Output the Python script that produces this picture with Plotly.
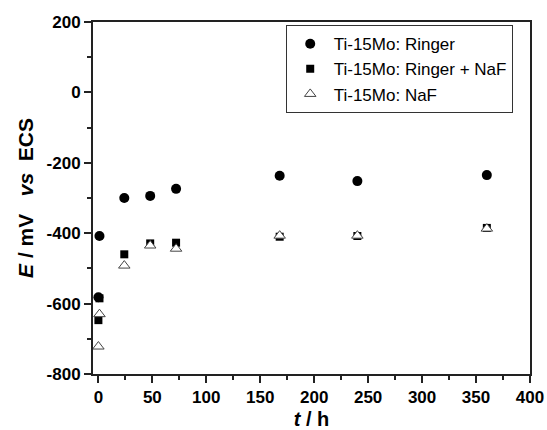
import plotly.graph_objects as go

t_ringer = [0, 1, 24, 48, 72, 168, 240, 360]
E_ringer = [-582, -408, -300, -294, -274, -237, -252, -235]

t_ringer_naf = [0, 1, 24, 48, 72, 168, 240, 360]
E_ringer_naf = [-647, -585, -460, -429, -427, -410, -408, -385]

t_naf = [0, 1, 24, 48, 72, 168, 240, 360]
E_naf = [-722, -630, -492, -435, -444, -407, -407, -387]

names = ["Ti-15Mo: Ringer", "Ti-15Mo: Ringer + NaF", "Ti-15Mo: NaF"]

fig = go.Figure()
fig.add_trace(go.Scatter(x=t_ringer, y=E_ringer, mode="markers", name=names[0],
                         marker=dict(symbol="circle", size=10, color="black")))
fig.add_trace(go.Scatter(x=t_ringer_naf, y=E_ringer_naf, mode="markers", name=names[1],
                         marker=dict(symbol="square", size=8, color="black")))
fig.add_trace(go.Scatter(x=t_naf, y=E_naf, mode="markers", name=names[2],
                         marker=dict(symbol="triangle-up", size=10, color="white",
                                     line=dict(color="#444444", width=1))))

font_tick = dict(family="Liberation Sans, Arial, sans-serif", size=17, color="black")
axis_common = dict(showline=True, linecolor="#222222", linewidth=2, mirror=True,
                   ticks="outside", ticklen=7, tickwidth=1.5, tickcolor="#222222",
                   showgrid=False, zeroline=False, tickfont=font_tick, automargin=False)

fig.update_xaxes(range=[-5, 400], tickmode="array", tickvals=list(range(0, 401, 50)),
                 ticktext=[f"<b>{v}</b>" for v in range(0, 401, 50)],
                 minor=dict(tickvals=list(range(25, 400, 50)), ticks="outside", ticklen=4,
                            tickwidth=1.5, tickcolor="#222222"),
                 title=dict(text="<b><i>t</i> / h</b>", font=dict(family="Liberation Sans, Arial, sans-serif", size=20, color="black"), standoff=6),
                 **axis_common)
fig.update_yaxes(range=[-800, 200], tickmode="array", tickvals=list(range(-800, 201, 200)),
                 ticktext=[f"<b>{v}</b>" for v in range(-800, 201, 200)],
                 minor=dict(tickvals=list(range(-700, 200, 200)), ticks="outside", ticklen=4,
                            tickwidth=1.5, tickcolor="#222222"),
                 title=dict(text="<b><i>E</i> / mV &nbsp;&nbsp;<i>vs</i> &nbsp;ECS</b>", font=dict(family="Liberation Sans, Arial, sans-serif", size=21, color="black"), standoff=7),
                 **axis_common)

fig.update_layout(
    width=547, height=430,
    margin=dict(l=93, r=17, t=22, b=56),
    paper_bgcolor="white", plot_bgcolor="white",
    showlegend=True,
    legend=dict(x=0.441, y=0.991, xanchor="left", yanchor="top",
                bordercolor="#333333", borderwidth=1, bgcolor="white",
                font=dict(family="Liberation Sans, Arial, sans-serif", size=17, color="black"),
                tracegroupgap=0, itemwidth=37),
)

fig.write_html("out.html", config={"displayModeBar": False},
               post_script="document.body.style.margin='0';document.body.style.overflow='hidden';")
